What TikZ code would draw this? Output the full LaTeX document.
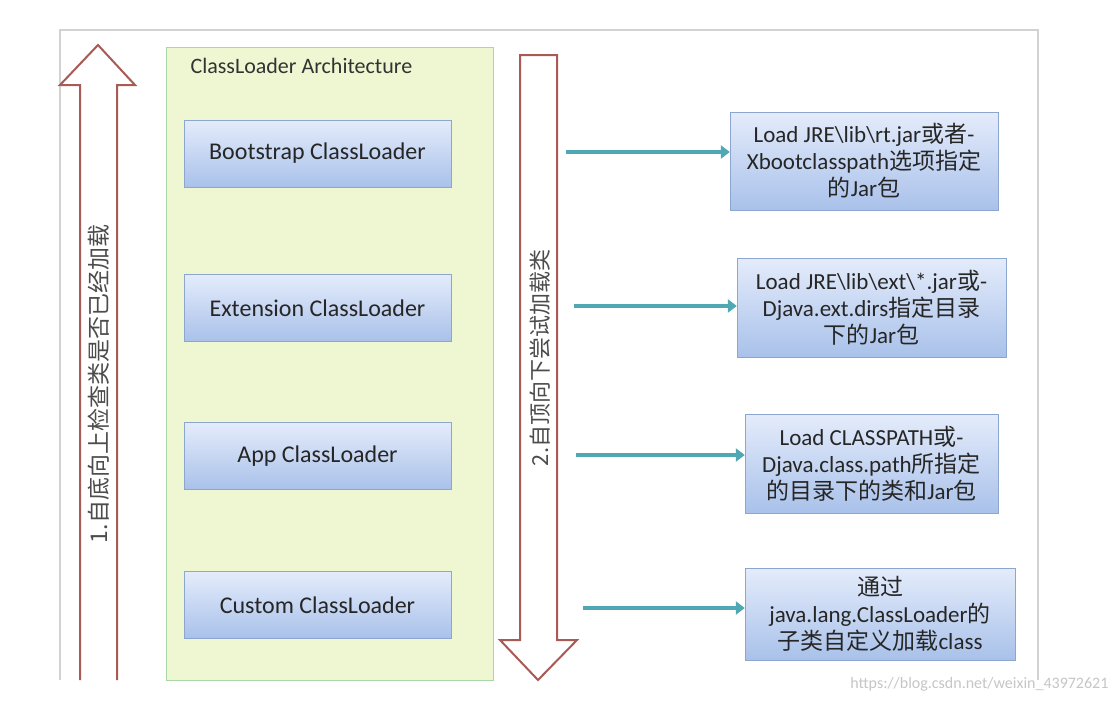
\documentclass[tikz,border=0pt]{standalone}
\usepackage{fontspec}
\setmainfont{Carlito}
\newfontfamily\cjk{Noto Sans CJK SC}
\usetikzlibrary{arrows.meta}
\definecolor{btop}{HTML}{E4ECFB}
\definecolor{bbot}{HTML}{A9C1EA}
\definecolor{bdr}{HTML}{8DA6CF}
\definecolor{pan}{HTML}{EEF6D2}
\definecolor{arr}{HTML}{4FA8B3}
\definecolor{red1}{HTML}{A85A55}
\begin{document}
\begin{tikzpicture}[x=1pt,y=-1pt,
  cl/.style={draw=bdr, top color=btop, bottom color=bbot, minimum width=267, minimum height=67, font=\fontsize{24}{28}\selectfont, text=black!85},
  rb/.style={draw=bdr, top color=btop, bottom color=bbot, font=\fontsize{23}{27}\selectfont, align=center, text=black!85, inner sep=2},
  ta/.style={line width=4.5pt, draw=arr, -{Triangle[length=9pt,width=13pt]}},
  big/.style={draw=red1, line width=2pt, fill=white}]
\useasboundingbox (0,0) rectangle (1118,702);
\fill[white] (0,0) rectangle (1118,702);
\draw[gray!35, line width=1.2pt] (60,680) -- (60,30) -- (1038,30) -- (1038,680);
% green panel
\node[draw=green!40!gray!50, fill=pan, minimum width=327, minimum height=633, anchor=north west, inner sep=0] (panel) at (166,47) {};
\node[anchor=west, font=\fontsize{22}{26}\selectfont, text=black!80] (title) at (187,66) {ClassLoader Architecture};
\node[cl] (b1) at (317.5,153.5) {Bootstrap ClassLoader};
\node[cl] (b2) at (317.5,308) {Extension ClassLoader};
\node[cl] (b3) at (317.5,456) {App ClassLoader};
\node[cl] (b4) at (317.5,605) {Custom ClassLoader};
% big arrows
\draw[big] (80,680) -- (80,85) -- (60,85) -- (98,45) -- (135,85) -- (117,85) -- (117,680);
\draw[big] (520,55) -- (557,55) -- (557,640) -- (577,640) -- (538,680) -- (500,640) -- (520,640) -- cycle;
\node[rotate=90, font=\cjk\fontsize{23}{26}\selectfont, text=black!70] (t1) at (99,384) {1.自底向上检查类是否已经加载};
\node[rotate=90, font=\cjk\fontsize{22}{26}\selectfont, text=black!70] (t2) at (540,358) {2.自顶向下尝试加载类};
% right boxes
\node[rb, minimum width=268, minimum height=98] (r1) at (864,161) {Load JRE\textbackslash lib\textbackslash rt.jar{\cjk 或者}-\\Xbootclasspath{\cjk 选项指定}\\{\cjk 的}Jar{\cjk 包}};
\node[rb, minimum width=269, minimum height=99] (r2) at (871.5,307.5) {Load JRE\textbackslash lib\textbackslash ext\textbackslash *.jar{\cjk 或}-\\Djava.ext.dirs{\cjk 指定目录}\\{\cjk 下的}Jar{\cjk 包}};
\node[rb, minimum width=253, minimum height=99] (r3) at (871.5,463.5) {Load CLASSPATH{\cjk 或}-\\Djava.class.path{\cjk 所指定}\\{\cjk 的目录下的类和}Jar{\cjk 包}};
\node[rb, minimum width=270, minimum height=92] (r4) at (880,614) {{\cjk 通过}\\java.lang.ClassLoader{\cjk 的}\\{\cjk 子类自定义加载}class};
\coordinate (s1) at (566,152);
\coordinate (s2) at (574,306);
\coordinate (s3) at (576,455);
\coordinate (s4) at (583,608);
\draw[ta] (s1) -- (r1.west |- s1);
\draw[ta] (s2) -- (r2.west |- s2);
\draw[ta] (s3) -- (r3.west |- s3);
\draw[ta] (s4) -- (r4.west |- s4);
\node[anchor=east, text=gray!45, font=\fontsize{16}{18}\selectfont] (wm) at (1112,684) {https://blog.csdn.net/weixin\_43972621};
\end{tikzpicture}
\end{document}
